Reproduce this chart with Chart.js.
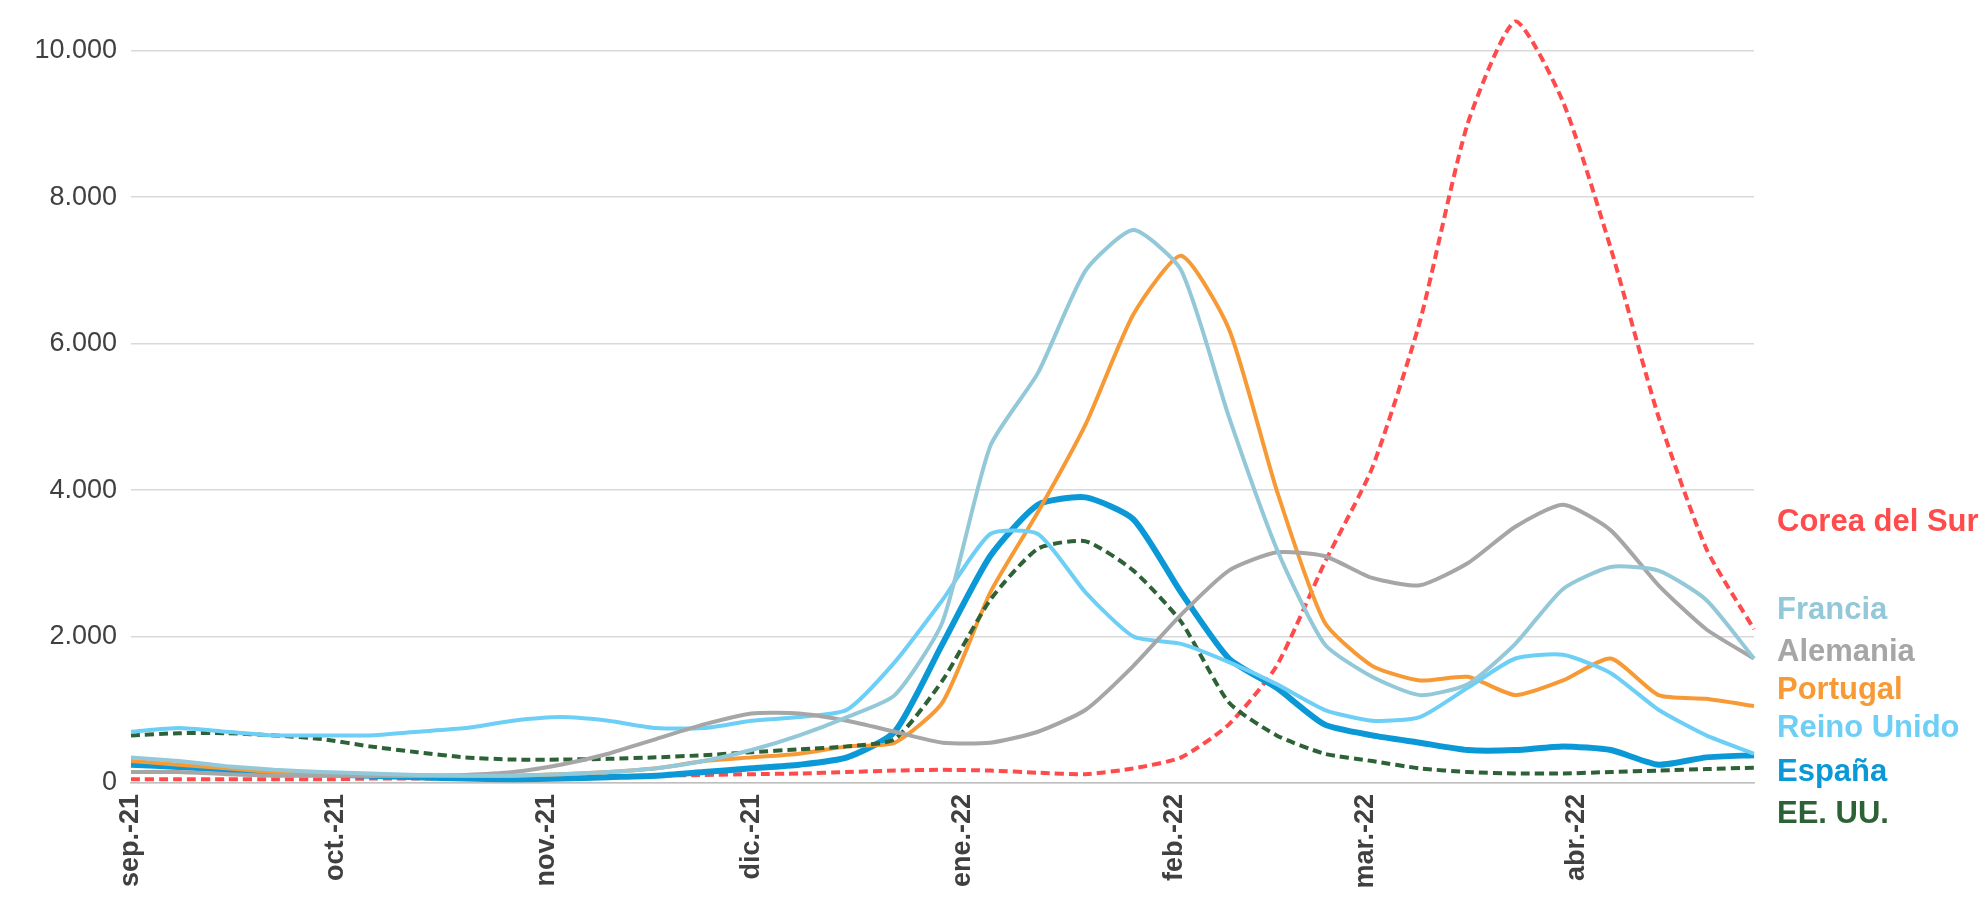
<!DOCTYPE html>
<html>
<head>
<meta charset="utf-8">
<script src="https://cdn.jsdelivr.net/npm/chart.js@4"></script>
<style>
  html, body { margin: 0; padding: 0; background: #fff; }
  canvas { display: block; }
</style>
</head>
<body>
<canvas id="covidChart" width="1987" height="902"></canvas>
<script>
// days since 1 Sep 2021, sampled weekly
const days = [0,7,14,21,28,35,42,49,56,63,70,77,84,91,98,105,112,119,126,133,140,147,154,161,168,175,182,189,196,203,210,217,224,231,238];

const monthTicks = [0, 30, 61, 91, 122, 153, 181, 212];
const monthLabels = ["sep.-21","oct.-21","nov.-21","dic.-21","ene.-22","feb.-22","mar.-22","abr.-22"];

const coreaSur = [50,50,50,50,50,60,60,60,70,80,90,100,110,120,130,150,170,180,170,140,120,200,350,800,1600,3000,4300,6300,9000,10400,9300,7300,5000,3200,2100];
const francia = [350,300,230,180,150,130,110,100,100,120,150,200,300,450,650,900,1200,2200,4600,5600,7000,7550,7000,5000,3200,1900,1450,1200,1350,1900,2650,2950,2900,2500,1700];
const alemania = [150,150,120,100,100,100,100,110,150,250,400,600,800,950,950,850,700,550,550,700,1000,1600,2300,2900,3150,3100,2800,2700,3000,3500,3800,3450,2700,2100,1700];
const portugal = [300,250,200,150,120,100,100,100,100,120,150,200,300,350,400,500,550,1100,2600,3700,4900,6400,7200,6200,4000,2200,1600,1400,1450,1200,1400,1700,1200,1150,1050];
const reinoUnido = [700,750,700,650,650,650,700,750,850,900,850,750,750,850,900,1000,1650,2500,3400,3400,2600,2000,1900,1650,1350,1000,850,900,1300,1700,1750,1500,1000,650,400];
const espana = [250,220,180,150,120,100,80,60,50,60,80,100,150,200,250,350,700,1900,3100,3800,3900,3600,2600,1700,1300,800,650,550,450,450,500,450,250,350,380];
const eeuu = [650,680,680,650,600,500,420,350,320,320,330,350,380,420,460,500,600,1400,2500,3200,3300,2900,2200,1100,650,400,300,200,150,130,130,150,170,190,210];

const seriesNames = ["Corea del Sur","Francia","Alemania","Portugal","Reino Unido","España","EE. UU."];
const seriesColors = ["#ff4b4b","#92c8d8","#a6a6a6","#f79a35","#6dcff6","#0b98d6","#2d6236"];

const pts = arr => arr.map((v, i) => ({ x: days[i], y: v }));

// labels at the right end of each line
const endLabels = {
  id: "endLabels",
  afterDraw(chart) {
    const c = chart.ctx;
    const ys = [522, 610, 652, 690, 728, 772, 814];
    c.save();
    c.font = "bold 31px 'Liberation Sans', Arial, sans-serif";
    c.textBaseline = "middle";
    seriesNames.forEach((n, i) => {
      c.fillStyle = seriesColors[i];
      c.fillText(n, 1777, ys[i]);
    });
    c.restore();
  }
};

const mk = (i, data, extra) => Object.assign({
  label: seriesNames[i],
  data: pts(data),
  borderColor: seriesColors[i],
  borderWidth: 4,
  pointRadius: 0,
  tension: 0.2,
  clip: false,
  fill: false
}, extra || {});

new Chart(document.getElementById("covidChart"), {
  type: "line",
  data: {
    datasets: [
      mk(1, francia),
      mk(2, alemania),
      mk(4, reinoUnido),
      mk(6, eeuu, { borderDash: [9, 5] }),
      mk(3, portugal),
      mk(5, espana, { borderWidth: 6 }),
      mk(0, coreaSur, { borderDash: [9, 5] })
    ]
  },
  options: {
    responsive: false,
    animation: false,
    layout: { padding: { top: 0, right: 233, left: 0, bottom: 0 } },
    plugins: { legend: { display: false }, tooltip: { enabled: false } },
    scales: {
      x: {
        type: "linear",
        min: 0,
        max: 238,
        afterBuildTicks: s => { s.ticks = monthTicks.map(v => ({ value: v })); },
        afterFit: s => { s.height = 119; },
        ticks: {
          autoSkip: false,
          maxRotation: 90,
          minRotation: 90,
          color: "#404040",
          font: { size: 27, weight: "bold", family: "'Liberation Sans', Arial, sans-serif" },
          callback: v => monthLabels[monthTicks.indexOf(v)]
        },
        grid: { display: false, drawOnChartArea: false },
        border: { color: "#bfbfbf", width: 1.5 }
      },
      y: {
        min: 0,
        max: 10280,
        afterBuildTicks: s => { s.ticks = [0,2000,4000,6000,8000,10000].map(v => ({ value: v })); },
        afterFit: s => { s.width = 131; },
        ticks: {
          color: "#404040",
          padding: 14,
          font: { size: 27, family: "'Liberation Sans', Arial, sans-serif" },
          callback: v => v.toLocaleString("de-DE")
        },
        grid: { color: "#d9d9d9", lineWidth: 1.5, drawTicks: false },
        border: { display: false }
      }
    }
  },
  plugins: [endLabels]
});
</script>
</body>
</html>
